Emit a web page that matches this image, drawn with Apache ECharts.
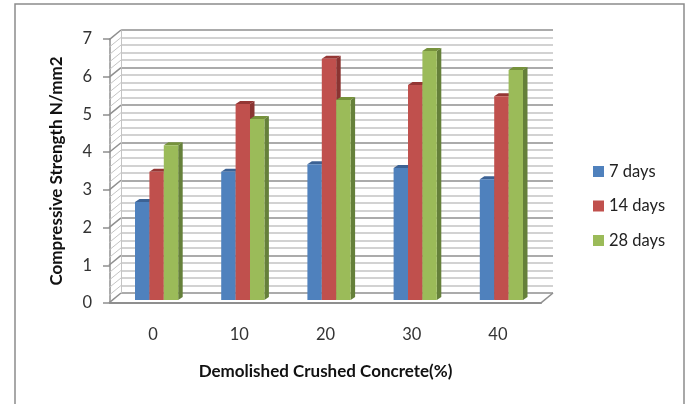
<!DOCTYPE html>
<html>
<head>
<meta charset="utf-8">
<title>Compressive strength</title>
<script src="https://cdn.jsdelivr.net/npm/echarts@6/dist/echarts.min.js"></script>
<style>
html, body { margin: 0; padding: 0; background: #fff; }
#chart { width: 688px; height: 404px; }
</style>
</head>
<body>
<div id="chart"></div>
<script>
const categories = ['0', '10', '20', '30', '40']
const days7 = [2.6, 3.4, 3.6, 3.5, 3.2]
const days14 = [3.4, 5.2, 6.4, 5.7, 5.4]
const days28 = [4.1, 4.8, 5.3, 6.6, 6.1]
const seriesNames = ['7 days', '14 days', '28 days']
const wallTicks = [0, 0.2, 0.4, 0.6, 0.8, 1, 1.2, 1.4, 1.6, 1.8, 2, 2.2, 2.4, 2.6, 2.8, 3, 3.2, 3.4, 3.6, 3.8,
  4, 4.2, 4.4, 4.6, 4.8, 5, 5.2, 5.4, 5.6, 5.8, 6, 6.2, 6.4, 6.6, 6.8, 7]

const faceColors = ['#4f81bd', '#c0504d', '#9bbb59']
const topColors = ['#3c6294', '#943634', '#76923c']
const sideColors = ['#35577f', '#8a3432', '#65803a']
const fontName = 'Lato, "Open Sans", sans-serif'
const barWidth = 14.4
const sideW = 4.5
const sideH = 3

const chart = echarts.init(document.getElementById('chart'))

// top and right side of each bar, the front face is a normal bar series
const renderBarDepth = (idx) => (params, api) => {
  const center = api.coord([api.value(0), api.value(1)])
  const base = api.coord([api.value(0), 0])
  const l = center[0] + (idx - 1) * barWidth - barWidth / 2
  const r = l + barWidth
  const t = center[1]
  return {
    type: 'group',
    children: [
      {
        type: 'polygon',
        shape: { points: [[l, t], [l + sideW, t - sideH], [r + sideW, t - sideH], [r, t]] },
        style: { fill: topColors[idx] }
      },
      {
        type: 'polygon',
        shape: { points: [[r, t], [r + sideW, t - sideH], [r + sideW, base[1] - sideH], [r, base[1]]] },
        style: { fill: sideColors[idx] }
      }
    ]
  }
}

// slanted lines on the left wall and the floor corner
const renderWallLine = (params, api) => {
  const p = api.coord([api.value(0), api.value(1)])
  return {
    type: 'line',
    shape: { x1: p[0], y1: p[1], x2: p[0] - 12, y2: p[1] + 9.8 },
    style: { stroke: api.value(2) ? '#8f8f8f' : '#c4c4c4', lineWidth: api.value(2) ? 1.5 : 1 }
  }
}

const wallData = wallTicks.map(v => [0, v, Number.isInteger(v) ? 1 : 0])
wallData.push([1, 0, 1])

const valuesList = [days7, days14, days28]
const series = [
  {
    type: 'custom',
    xAxisIndex: 0,
    yAxisIndex: 0,
    z: 1,
    silent: true,
    clip: false,
    renderItem: renderWallLine,
    data: wallData
  }
]
valuesList.forEach((values, i) => {
  series.push({
    type: 'custom',
    xAxisIndex: 2,
    yAxisIndex: 2,
    z: 3 + i * 2,
    clip: false,
    silent: true,
    renderItem: renderBarDepth(i),
    data: values.map((v, c) => [c, v])
  })
  series.push({
    name: seriesNames[i],
    type: 'bar',
    xAxisIndex: 2,
    yAxisIndex: 2,
    z: 4 + i * 2,
    barWidth: barWidth,
    barGap: 0,
    itemStyle: { color: faceColors[i] },
    data: values
  })
})

chart.setOption({
  backgroundColor: '#fff',
  animation: false,
  graphic: [
    {
      type: 'rect',
      z: 0,
      shape: { x: 15, y: 4, width: 669, height: 396 + 30 },
      style: { fill: 'none', stroke: '#8c8c8c', lineWidth: 1.5 }
    }
  ],
  legend: {
    data: seriesNames.map(n => ({ name: n, icon: 'rect' })),
    orient: 'vertical',
    left: 593,
    top: 163,
    padding: 0,
    itemWidth: 11,
    itemHeight: 11,
    itemGap: 17.5,
    textStyle: { fontFamily: fontName, fontSize: 16.5, color: '#222' }
  },
  grid: [
    { left: 121, top: 30, width: 432, height: 263 },
    { left: 110, top: 39, width: 431, height: 264 },
    { left: 113.5, top: 36, width: 431, height: 264 }
  ],
  xAxis: [
    { type: 'value', gridIndex: 0, min: 0, max: 1, show: false },
    {
      type: 'category',
      gridIndex: 1,
      data: categories,
      name: 'Demolished Crushed Concrete(%)',
      nameLocation: 'middle',
      nameGap: 60,
      nameTextStyle: { fontFamily: fontName, fontSize: 17, fontWeight: 'bold', color: '#111' },
      axisLine: { lineStyle: { color: '#8f8f8f', width: 2 } },
      axisTick: { show: false },
      axisLabel: { margin: 23, fontFamily: fontName, fontSize: 16.5, color: '#333' }
    },
    { type: 'category', gridIndex: 2, data: categories, show: false }
  ],
  yAxis: [
    {
      type: 'value',
      gridIndex: 0,
      min: 0,
      max: 7,
      interval: 1,
      axisLine: { show: true, lineStyle: { color: '#c4c4c4' } },
      axisTick: { show: false },
      axisLabel: { show: false },
      minorTick: { show: false, splitNumber: 5 },
      splitLine: { show: true, lineStyle: { color: '#8f8f8f', width: 1.5 } },
      minorSplitLine: { show: true, lineStyle: { color: '#c4c4c4', width: 1.5 } }
    },
    {
      type: 'value',
      gridIndex: 1,
      min: 0,
      max: 7,
      interval: 1,
      name: 'Compressive Strength N/mm2',
      nameLocation: 'middle',
      nameGap: 45,
      nameTextStyle: { fontFamily: fontName, fontSize: 17, fontWeight: 'bold', color: '#111' },
      axisLine: { show: true, lineStyle: { color: '#8f8f8f', width: 1.5 } },
      axisTick: { show: true, length: 7, lineStyle: { color: '#8f8f8f', width: 1.5 } },
      axisLabel: { margin: 18, fontFamily: fontName, fontSize: 16.5, color: '#333' },
      splitLine: { show: false }
    },
    { type: 'value', gridIndex: 2, min: 0, max: 7, show: false, splitLine: { show: false } }
  ],
  series: series
})
</script>
</body>
</html>
